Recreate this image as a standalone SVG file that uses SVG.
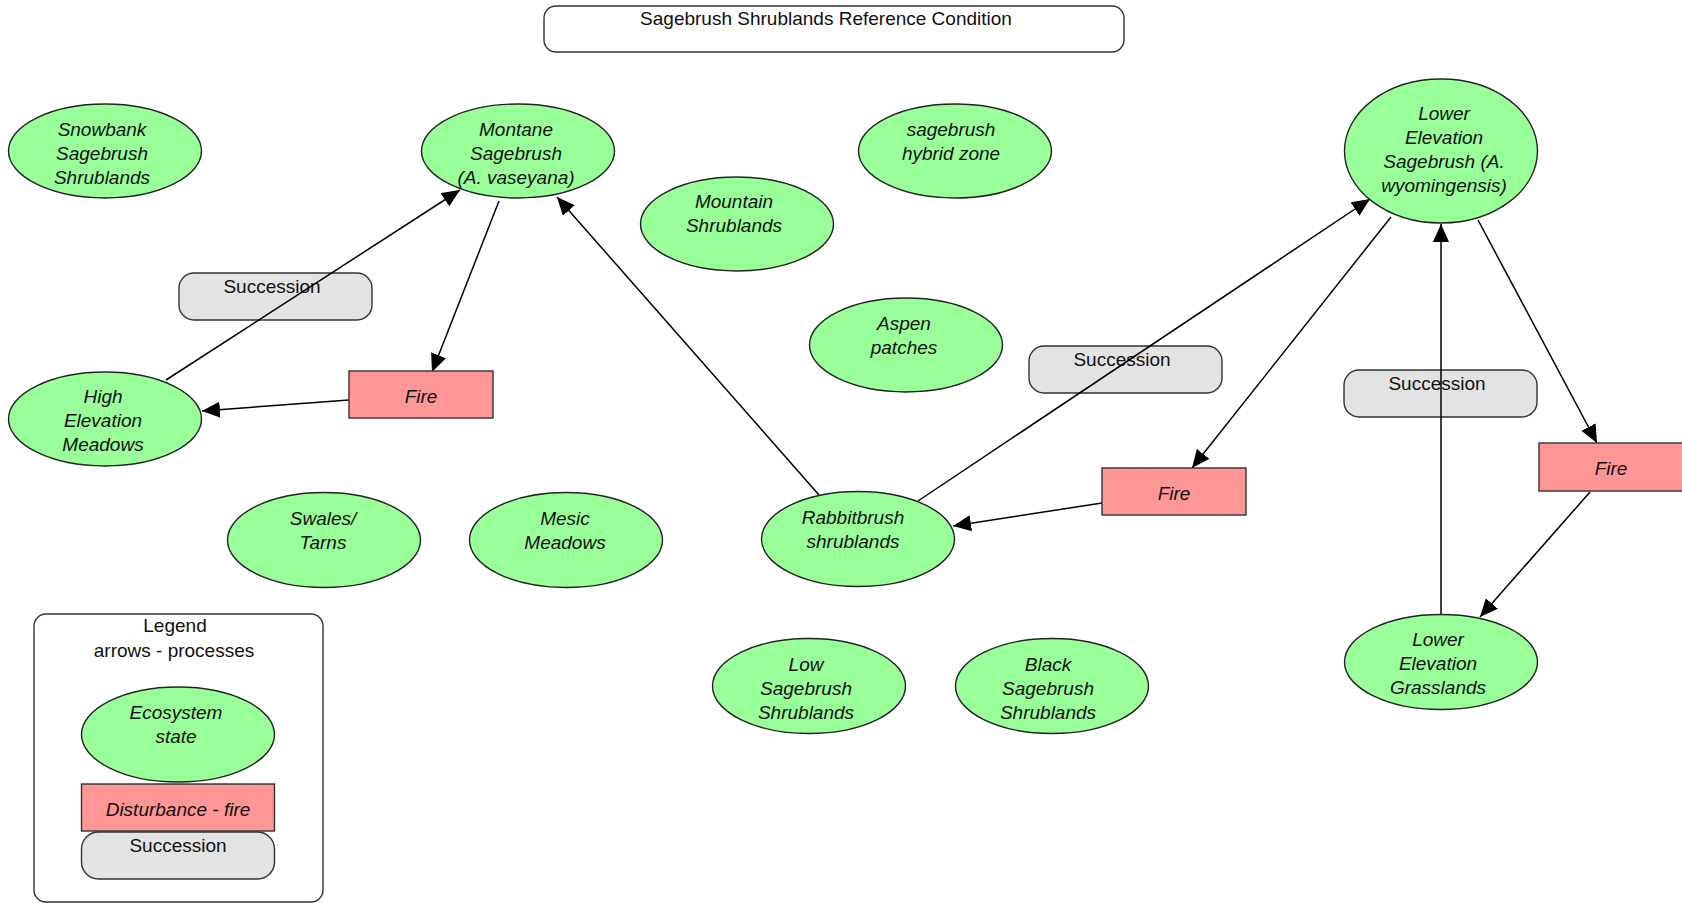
<svg xmlns="http://www.w3.org/2000/svg" width="1682" height="903" viewBox="0 0 1682 903">
<style>
text{font-family:"Liberation Sans",Arial,sans-serif;font-size:19px;fill:#111;text-anchor:middle}
.st ellipse{fill:#99FF99;stroke:#222;stroke-width:1.4}
.st text,.fire text{font-style:italic}
.fire rect{fill:#FF9696;stroke:#333;stroke-width:1.4}
.succ rect{fill:#E3E3E3;stroke:#333;stroke-width:1.4}
.frame{fill:#fff;stroke:#333;stroke-width:1.4}
#connectors line{stroke:#000;stroke-width:1.5;marker-end:url(#arr)}
</style>
<defs>
<marker id="arr" markerWidth="18" markerHeight="16" refX="18" refY="8" orient="auto" markerUnits="userSpaceOnUse"><path d="M0,0 L18,8 L0,16 z" fill="#000"/></marker>
</defs>
<rect width="1682" height="903" fill="#fff"/>
<g id="title"><rect class="frame" x="544" y="6" width="580" height="46" rx="12"/><text x="826" y="25">Sagebrush Shrublands Reference Condition</text></g>
<g id="legend"><rect class="frame" x="34" y="614" width="289" height="288" rx="12"/><text x="175" y="632">Legend</text><text x="174" y="657">arrows - processes</text></g>
<g id="succ1" class="succ"><rect x="179" y="273" width="193" height="47" rx="15"/><text x="272" y="293">Succession</text></g>
<g id="succ2" class="succ"><rect x="1029" y="346" width="193" height="47" rx="15"/><text x="1122" y="366">Succession</text></g>
<g id="succ3" class="succ"><rect x="1344" y="370" width="193" height="47" rx="15"/><text x="1437" y="390">Succession</text></g>
<g id="connectors">
<line x1="166" y1="380" x2="460" y2="190"/>
<line x1="499" y1="201" x2="432" y2="372"/>
<line x1="349" y1="400" x2="202" y2="411"/>
<line x1="819" y1="495" x2="557" y2="197"/>
<line x1="918" y1="501" x2="1370" y2="199"/>
<line x1="1391" y1="217" x2="1192" y2="468"/>
<line x1="1102" y1="503" x2="953" y2="526"/>
<line x1="1441" y1="614" x2="1441" y2="224"/>
<line x1="1478" y1="220" x2="1597" y2="443"/>
<line x1="1590" y1="492" x2="1480" y2="617"/>
</g>
<g id="fire1" class="fire"><rect x="349" y="371" width="144" height="47"/><text x="421" y="403">Fire</text></g>
<g id="fire2" class="fire"><rect x="1102" y="468" width="144" height="47"/><text x="1174" y="500">Fire</text></g>
<g id="fire3" class="fire"><rect x="1539" y="443" width="144" height="48"/><text x="1611" y="475">Fire</text></g>
<g id="snowbank" class="st"><ellipse cx="105" cy="151" rx="96.5" ry="47"/><text x="102" y="136">Snowbank</text><text x="102" y="160">Sagebrush</text><text x="102" y="184">Shrublands</text></g>
<g id="montane" class="st"><ellipse cx="518" cy="151" rx="96.5" ry="47"/><text x="516" y="136">Montane</text><text x="516" y="160">Sagebrush</text><text x="516" y="184">(A. vaseyana)</text></g>
<g id="hybrid" class="st"><ellipse cx="955" cy="151" rx="96.5" ry="47"/><text x="951" y="136">sagebrush</text><text x="951" y="160">hybrid zone</text></g>
<g id="mountain" class="st"><ellipse cx="737" cy="224" rx="96.5" ry="47"/><text x="734" y="208">Mountain</text><text x="734" y="232">Shrublands</text></g>
<g id="lowersage" class="st"><ellipse cx="1441" cy="151" rx="96.5" ry="72"/><text x="1444" y="120">Lower</text><text x="1444" y="144">Elevation</text><text x="1444" y="168">Sagebrush (A.</text><text x="1444" y="192">wyomingensis)</text></g>
<g id="aspen" class="st"><ellipse cx="906" cy="345" rx="96.5" ry="47"/><text x="904" y="330">Aspen</text><text x="904" y="354">patches</text></g>
<g id="highmeadows" class="st"><ellipse cx="105" cy="419" rx="96.5" ry="47"/><text x="103" y="403">High</text><text x="103" y="427">Elevation</text><text x="103" y="451">Meadows</text></g>
<g id="swales" class="st"><ellipse cx="324" cy="540" rx="96.5" ry="47.5"/><text x="323" y="525">Swales/</text><text x="323" y="549">Tarns</text></g>
<g id="mesic" class="st"><ellipse cx="566" cy="540" rx="96.5" ry="47.5"/><text x="565" y="525">Mesic</text><text x="565" y="549">Meadows</text></g>
<g id="rabbitbrush" class="st"><ellipse cx="858" cy="539" rx="96.5" ry="47.5"/><text x="853" y="524">Rabbitbrush</text><text x="853" y="548">shrublands</text></g>
<g id="lowsage" class="st"><ellipse cx="809" cy="686" rx="96.5" ry="47.5"/><text x="806" y="671">Low</text><text x="806" y="695">Sagebrush</text><text x="806" y="719">Shrublands</text></g>
<g id="blacksage" class="st"><ellipse cx="1052" cy="686" rx="96.5" ry="47.5"/><text x="1048" y="671">Black</text><text x="1048" y="695">Sagebrush</text><text x="1048" y="719">Shrublands</text></g>
<g id="grasslands" class="st"><ellipse cx="1441" cy="662" rx="96.5" ry="47.5"/><text x="1438" y="646">Lower</text><text x="1438" y="670">Elevation</text><text x="1438" y="694">Grasslands</text></g>
<g id="legend-state" class="st"><ellipse cx="178" cy="734.5" rx="96.5" ry="47.5"/><text x="176" y="719">Ecosystem</text><text x="176" y="743">state</text></g>
<g id="legend-fire" class="fire"><rect x="81.5" y="784" width="193" height="47"/><text x="178" y="816">Disturbance - fire</text></g>
<g id="legend-succ" class="succ"><rect x="81.5" y="832" width="193" height="47" rx="17"/><text x="178" y="852">Succession</text></g>
</svg>
